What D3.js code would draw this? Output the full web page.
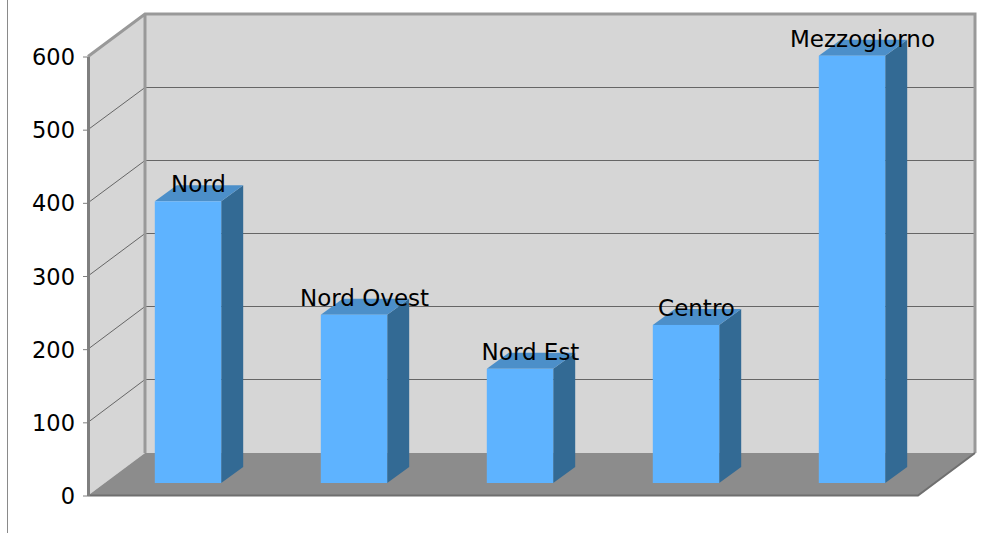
<!DOCTYPE html>
<html lang="en">
<head>
    <meta charset="utf-8">
    <title>Nord Centro Mezzogiorno</title>
    <script src="https://d3js.org/d3.v7.min.js"></script>
    <style>
        html, body {
            margin: 0;
            padding: 0;
            background: #fff;
        }
        text {
            font-family: "DejaVu Sans", sans-serif;
            fill: #000;
        }
        .axis text {
            font-size: 22.5px;
        }
        .axis path {
            stroke: #7f7f7f;
            stroke-width: 3px;
        }
        .axis line {
            stroke: #7f7f7f;
        }
        .label {
            font-size: 23px;
            text-anchor: middle;
        }
    </style>
</head>
<body>
<script type="text/javascript">

    var categories = ["Nord", "Nord Ovest", "Nord Est", "Centro", "Mezzogiorno"];
    var values = [385, 230, 156, 216, 584];
    var tickValues = [0, 100, 200, 300, 400, 500, 600];

    var w = 983;
    var h = 533;

    //wall offset and bar offset for the fake 3d
    var depthX = 57, depthY = -42.5;
    var barDepthX = 22, barDepthY = -16;
    var frontX = 17, frontY = -12.5;

    var xScale = d3.scaleBand().domain(categories).range([88, 918]).paddingInner(0.6).paddingOuter(0.3);
    var yScale = d3.scaleLinear().domain([0, 600]).range([495.5, 56.5]);

    var x0 = xScale.range()[0], x1 = xScale.range()[1];
    var yBase = yScale(0), yTop = yScale(600);

    var svg = d3.select("body")
        .append("svg")
        .attr("width", w)
        .attr("height", h)
        .style("display", "block");

    function pts(list) {
        return list.map(function(p) { return p.join(","); }).join(" ");
    }

    //line on the far left of the picture
    svg.append("line")
        .attr("x1", 7.5).attr("x2", 7.5)
        .attr("y1", 0).attr("y2", h)
        .attr("stroke", "#8a8a8a");

    //back wall
    svg.append("rect")
        .attr("x", x0 + depthX)
        .attr("y", yTop + depthY)
        .attr("width", x1 - x0)
        .attr("height", yBase - yTop)
        .attr("fill", "#d6d6d6");

    //side wall
    svg.append("polygon")
        .attr("points", pts([
            [x0, yTop], [x0 + depthX, yTop + depthY],
            [x0 + depthX, yBase + depthY], [x0, yBase]
        ]))
        .attr("fill", "#d6d6d6");

    //floor
    svg.append("polygon")
        .attr("points", pts([
            [x0, yBase], [x0 + depthX, yBase + depthY],
            [x1 + depthX, yBase + depthY], [x1, yBase]
        ]))
        .attr("fill", "#8c8c8c");

    //grid lines, side wall and back wall
    svg.append("g")
        .selectAll("path")
        .data(tickValues.filter(function(d) { return d > 0 && d < 600; }))
        .enter()
        .append("path")
        .attr("fill", "none")
        .attr("stroke", "#666")
        .attr("d", function(d) {
            var y = yScale(d);
            var yBack = Math.floor(y + depthY) + 0.5;
            return "M" + x0 + "," + y +
                "L" + (x0 + depthX) + "," + yBack +
                "L" + (x1 + depthX) + "," + yBack;
        });

    //wall borders
    svg.append("path")
        .attr("fill", "none")
        .attr("stroke", "#999")
        .attr("stroke-width", 3)
        .attr("d", "M" + x0 + "," + yTop +
            "L" + (x0 + depthX) + "," + (yTop + depthY) +
            "L" + (x1 + depthX) + "," + (yTop + depthY) +
            "L" + (x1 + depthX) + "," + (yBase + depthY) +
            "M" + (x0 + depthX) + "," + (yTop + depthY) +
            "L" + (x0 + depthX) + "," + (yBase + depthY));

    //floor edges
    svg.append("path")
        .attr("fill", "none")
        .attr("stroke", "#6f6f6f")
        .attr("stroke-width", 2)
        .attr("d", "M" + x0 + "," + yBase +
            "L" + x1 + "," + yBase +
            "L" + (x1 + depthX) + "," + (yBase + depthY));

    //bars
    var bars = svg.append("g")
        .selectAll("g")
        .data(categories)
        .enter()
        .append("g");

    function barLeft(i) { return xScale(categories[i]) + frontX; }
    function barTop(i) { return yScale(values[i]) + frontY; }

    //side face
    bars.append("polygon")
        .attr("fill", "#336a94")
        .attr("points", function(d, i) {
            var r = barLeft(i) + xScale.bandwidth(), t = barTop(i), b = yBase + frontY;
            return pts([[r, t], [r + barDepthX, t + barDepthY], [r + barDepthX, b + barDepthY], [r, b]]);
        });

    //top face
    bars.append("polygon")
        .attr("fill", "#4c8fc9")
        .attr("points", function(d, i) {
            var l = barLeft(i), r = l + xScale.bandwidth(), t = barTop(i);
            return pts([[l, t], [l + barDepthX, t + barDepthY], [r + barDepthX, t + barDepthY], [r, t]]);
        });

    //front face
    bars.append("rect")
        .attr("fill", "#5eb3ff")
        .attr("x", function(d, i) { return barLeft(i); })
        .attr("y", function(d, i) { return barTop(i); })
        .attr("width", xScale.bandwidth())
        .attr("height", function(d, i) { return yScale(0) - yScale(values[i]); });

    //labels over the bars
    bars.append("text")
        .attr("class", "label")
        .attr("x", function(d, i) { return barLeft(i) + xScale.bandwidth() / 2 + 10.5; })
        .attr("y", function(d, i) { return barTop(i) - 9; })
        .text(function(d) { return d; });

    //y axis
    var yAxis = d3.axisLeft(yScale)
        .tickValues(tickValues)
        .tickSize(5)
        .tickSizeOuter(0)
        .tickPadding(8);

    svg.append("g")
        .attr("class", "axis")
        .attr("transform", "translate(" + x0 + ",0)")
        .call(yAxis)
        .selectAll("text")
        .attr("dy", "0.36em");

</script>
</body>
</html>
